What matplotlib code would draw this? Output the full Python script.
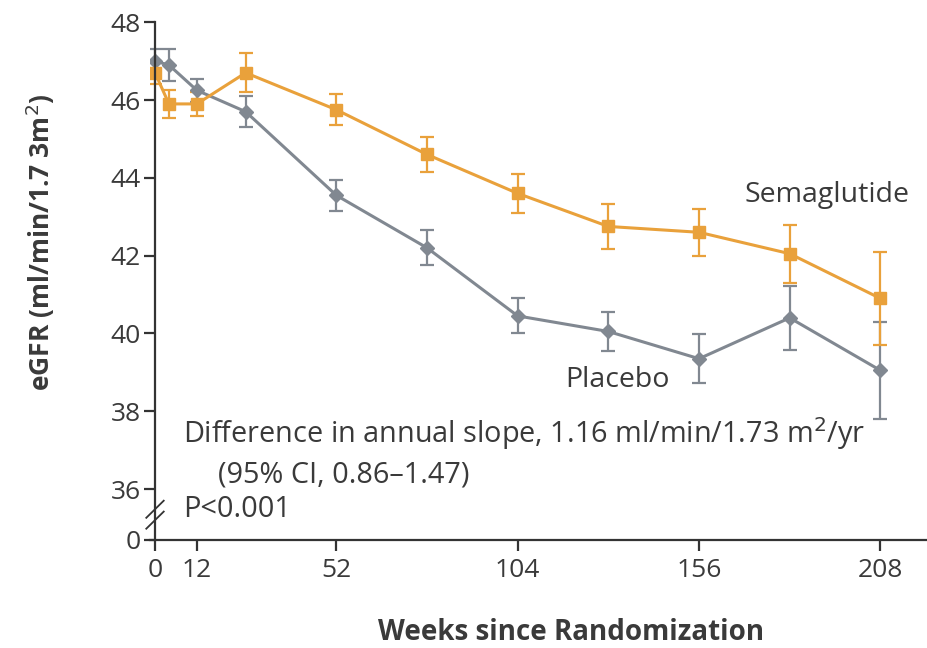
import numpy as np
from matplotlib import pyplot as plt

plt.rcParams['font.family'] = ['Open Sans', 'DejaVu Sans']

weeks = [0, 4, 12, 26, 52, 78, 104, 130, 156, 182, 208]
sema = [46.7, 45.9, 45.9, 46.7, 45.75, 44.6, 43.6, 42.75, 42.6, 42.05, 40.9]
sema_err = [0.3, 0.35, 0.3, 0.5, 0.4, 0.45, 0.5, 0.57, 0.6, 0.75, 1.2]
plac = [47.0, 46.9, 46.25, 45.7, 43.55, 42.2, 40.45, 40.05, 39.35, 40.4, 39.05]
plac_err = [0.3, 0.4, 0.3, 0.4, 0.4, 0.45, 0.45, 0.5, 0.63, 0.82, 1.25]

xticks = [0, 12, 52, 104, 156, 208]
yticks = [36, 38, 40, 42, 44, 46, 48]
zero_pos = 34.69  # where the "0" sits below the axis break

orange = "#E9A13B"
grey = "#818891"
txt = "#3a3a3a"

fig = plt.figure(figsize=(9.28, 6.48), dpi=100)
ax = fig.add_axes([0.1614, 0.1667, 0.838, 0.811])

ax.errorbar(weeks, plac, yerr=plac_err, color=grey, marker="D", markersize=7,
            lw=2.2, elinewidth=1.6, capsize=5, capthick=1.6)
ax.errorbar(weeks, sema, yerr=sema_err, color=orange, marker="s", markersize=8,
            lw=2.2, elinewidth=1.6, capsize=5, capthick=1.6)

ax.set_xlim(-1.5, 221.5)
ax.set_ylim(zero_pos, 48.2)
ax.set_xticks(xticks)
ax.set_xticklabels([str(t) for t in xticks])
ax.set_yticks([zero_pos] + yticks)
ax.set_yticklabels(["0"] + [str(t) for t in yticks])

for s in ["top", "right"]:
    ax.spines[s].set_visible(False)
ax.spines["left"].set_bounds(zero_pos, 48)
ax.spines["left"].set_position(("data", 0))
for s in ["left", "bottom"]:
    ax.spines[s].set_color("#333333")
    ax.spines[s].set_linewidth(1.6)
ax.tick_params(direction="out", length=8, width=1.6, color="#333333",
               labelsize=19, labelcolor=txt)
ax.tick_params(axis="x", pad=5)
ax.tick_params(axis="y", pad=2)

# axis break marks
for yb in [35.2, 35.48]:
    ax.plot([-2.5, 2.5], [yb - 0.22, yb + 0.22], color="#333333", lw=1.3,
            clip_on=False)

ax.set_xlabel("Weeks since Randomization", fontsize=20, fontweight="bold",
              color=txt, va="center")
ax.xaxis.set_label_coords(0.5416, -0.177)
ax.set_ylabel("eGFR (ml/min/1.7 3m$^2$)", fontsize=19, fontweight="bold",
              color=txt, va="center")
ax.yaxis.set_label_coords(-0.141, 0.567)

ax.text(169, 43.37, "Semaglutide", fontsize=20.5, color=txt, va="baseline")
ax.text(117.5, 38.62, "Placebo", fontsize=20.5, color=txt, va="baseline")
ax.text(8, 37.18, "Difference in annual slope, 1.16 ml/min/1.73 m$^2$/yr",
        fontsize=20.8, color=txt, va="baseline")
ax.text(18, 36.17, "(95% CI, 0.86\u20131.47)", fontsize=20.8, color=txt,
        va="baseline")
ax.text(8, 35.28, "P<0.001", fontsize=20.8, color=txt, va="baseline")

fig.savefig("out.png", dpi=100)
